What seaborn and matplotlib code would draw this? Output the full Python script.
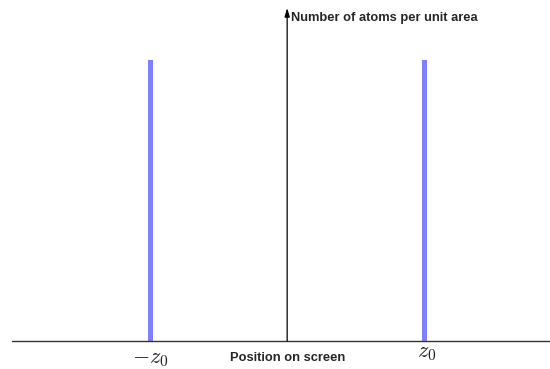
import matplotlib
matplotlib.use("Agg")
import matplotlib.pyplot as plt
import seaborn as sns

# Data: two thin peaks at -z0 and +z0 (units of z0)
positions = [-1.0, 1.0]
heights = [1.0, 1.0]
tick_labels = [r"$-z_0$", r"$z_0$"]

sns.set_style("white")
plt.rcParams["font.family"] = ["Liberation Sans", "DejaVu Sans"]
plt.rcParams["mathtext.fontset"] = "cm"

fig = plt.figure(figsize=(5.5, 3.69), dpi=100)
ax = fig.add_axes([12 / 550, 28 / 369, 538 / 550, 333 / 369])

ax.bar(positions, heights, width=0.037, color="#8080ff", linewidth=0)

ax.set_xlim(-2.01, 1.92)
ax.set_ylim(0, 1.185)
for s in ax.spines.values():
    s.set_visible(False)
ax.set_xticks([])
ax.set_yticks([])

# axes
ax.axhline(0, color="#333333", lw=1.0, clip_on=False)
ax.annotate("", xy=(0, 1.185), xytext=(0, 0),
            arrowprops=dict(arrowstyle="-|>,head_length=0.5,head_width=0.15",
                            color="black", lw=0.9, shrinkA=0, shrinkB=0),
            annotation_clip=False)

# tick labels
ax.text(positions[0], -0.062, tick_labels[0], ha="center", va="center",
        fontsize=16, color="#222222")
ax.text(positions[1] + 0.02, -0.04, tick_labels[1], ha="center", va="center",
        fontsize=16, color="#222222")

ax.text(0, -0.06, "Position on screen", ha="center", va="center",
        fontsize=9.3, fontweight="bold")
ax.text(0.025, 1.15, "Number of atoms per unit area", ha="left", va="center",
        fontsize=9.3, fontweight="bold")

fig.savefig("out.png", dpi=100)
